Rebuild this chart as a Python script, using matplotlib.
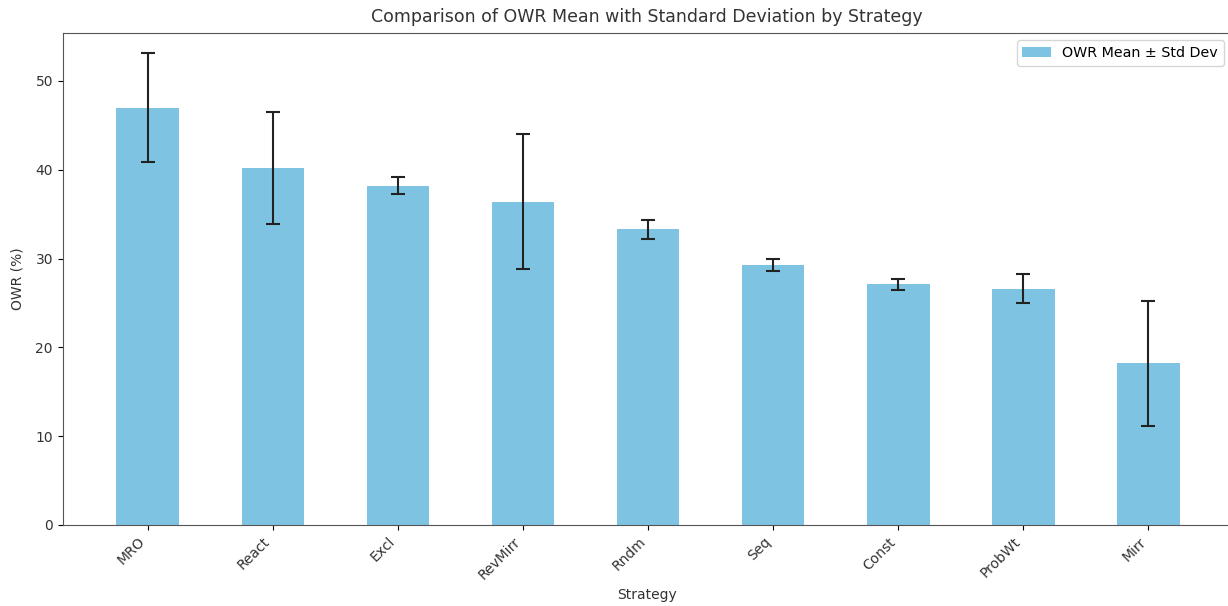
import matplotlib
matplotlib.use("Agg")
import matplotlib.pyplot as plt
import numpy as np

strategies = ["MRO", "React", "Excl", "RevMirr", "Rndm", "Seq", "Const", "ProbWt", "Mirr"]
owr_mean = [47.0, 40.2, 38.2, 36.4, 33.3, 29.25, 27.1, 26.6, 18.2]
owr_std = [6.15, 6.35, 0.95, 7.6, 1.05, 0.7, 0.6, 1.65, 7.0]

fig = plt.figure(figsize=(12.28, 6.06), dpi=100)
ax = fig.add_axes([62.7 / 1228, 1 - 525 / 606, (1231 - 62.7) / 1228, (525 - 33) / 606])

x = np.arange(len(strategies))
ax.bar(x, owr_mean, width=0.5, color="#7ec4e2", yerr=owr_std, capsize=5,
       error_kw=dict(ecolor="#222222", elinewidth=1.5, capthick=1.5),
       label="OWR Mean \u00b1 Std Dev")

ax.set_xlim(-0.68, 8.66)
ax.set_ylim(0, 55.4)
ax.set_xticks(x)
ax.set_xticklabels(strategies, rotation=45, ha="right", fontsize=10, color="#333333")
ax.tick_params(axis="y", labelsize=10, labelcolor="#333333")
for s in ax.spines.values():
    s.set_color("#555555")

ax.set_title("Comparison of OWR Mean with Standard Deviation by Strategy", fontsize=12.5, color="#333333", pad=8)
ax.set_xlabel("Strategy", fontsize=10, color="#333333")
ax.set_ylabel("OWR (%)", fontsize=10, color="#333333", labelpad=8)
ax.legend(loc="upper right", fontsize=10.3)

fig.savefig("out.png", dpi=100)
